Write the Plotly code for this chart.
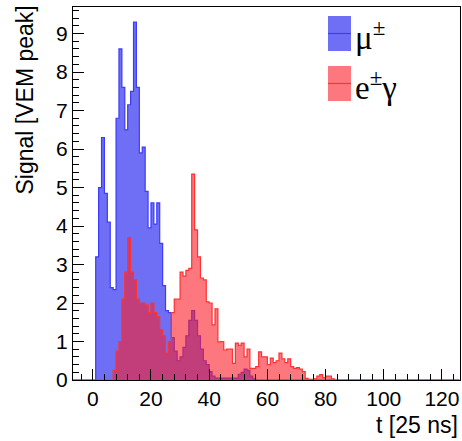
import plotly.graph_objects as go

# ---- data (bin contents, 1-unit bins of 25 ns) ----
t_min = -7
t_max = 126

mu_first_bin = 1
mu_signal = [3.2, 5.0, 6.3, 4.85, 4.1, 2.4, 2.35, 6.8, 8.6, 7.6,
             6.5, 7.15, 7.5, 9.3, 7.6, 5.9, 6.05, 4.9, 3.95, 4.6,
             4.05, 4.6, 3.55, 2.45, 1.8, 1.75, 1.1, 0.75, 0.5, 0.6,
             0.85, 1.15, 1.55, 1.8, 1.55, 1.15, 0.8, 0.5, 0.4, 0.22,
             0.1, 0.05, 0.05, 0.05, 0.05, 0.05, 0.05, 0.05, 0.05, 0.15,
             0.2, 0.28, 0.25, 0.1, 0.03]

em_first_bin = 7
em_signal = [0.25, 0.75, 1.0, 2.1, 2.8, 3.7, 2.8, 2.6, 2.1, 2.0,
             2.0, 1.95, 1.75, 2.0, 1.75, 1.65, 1.3, 1.15, 0.7, 1.0,
             1.75, 2.1, 2.1, 2.8, 2.7, 2.85, 2.9, 5.35, 3.9, 3.2,
             2.65, 2.6, 2.03, 2.0, 1.43, 1.85, 0.99, 1.0, 0.78, 0.8,
             0.8, 0.43, 0.96, 0.9, 0.96, 0.6, 0.8, 0.3, 0.3, 0.35,
             0.73, 0.6, 0.6, 0.4, 0.57, 0.45, 0.5, 0.7, 0.55, 0.45,
             0.55, 0.35, 0.3, 0.32, 0.28, 0.22, 0.04, 0.02, 0.02, 0.03,
             0.1, 0.14, 0.06, 0.1, 0.1, 0.03]

x_ticks = [0, 20, 40, 60, 80, 100, 120]
y_ticks = [0, 1, 2, 3, 4, 5, 6, 7, 8, 9]
labels = ["μ<sup>±</sup>", "e<sup>±</sup>γ"]


def full_hist(first_bin, values):
    edges = list(range(t_min, t_max + 1))
    contents = [0.0] * (len(edges) - 1)
    for i, v in enumerate(values):
        contents[first_bin - t_min + i] = v
    xs = edges
    ys = contents + [contents[-1]]
    return xs, ys


fig = go.Figure()

BLUE_FILL = "rgba(30,30,240,0.64)"
BLUE_LINE = "rgb(60,60,250)"
RED_FILL = "rgba(250,30,40,0.6)"
RED_LINE = "rgb(255,50,50)"

x_mu, y_mu = full_hist(mu_first_bin, mu_signal)
x_em, y_em = full_hist(em_first_bin, em_signal)

fig.add_trace(go.Scatter(x=x_mu, y=y_mu, mode="lines", line_shape="hv",
                         line=dict(color=BLUE_LINE, width=1.2),
                         fill="tozeroy", fillcolor=BLUE_FILL,
                         name=labels[0], showlegend=False, hoverinfo="skip"))
fig.add_trace(go.Scatter(x=x_em, y=y_em, mode="lines", line_shape="hv",
                         line=dict(color=RED_LINE, width=1.2),
                         fill="tozeroy", fillcolor=RED_FILL,
                         name=labels[1], showlegend=False, hoverinfo="skip"))

L, R, T, B = 73, 2, 7, 61
W, H = 462, 441
pw = W - L - R
ph = H - T - B


def px(xp):
    return (xp - L) / pw


def py(yp):
    return (H - B - yp) / ph


tick_font = dict(family="Liberation Sans, Arial, sans-serif", size=21, color="black")
title_font = dict(family="Liberation Sans, Arial, sans-serif", size=23, color="black")

fig.update_layout(
    width=W, height=H,
    margin=dict(l=L, r=R, t=T, b=B),
    plot_bgcolor="white", paper_bgcolor="white",
    xaxis=dict(range=[-6.8, 126.2], tickvals=x_ticks, ticks="inside", ticklen=11,
               tickcolor="black", tickwidth=1, showline=True, linecolor="black",
               linewidth=1, mirror=True, showgrid=False, zeroline=False,
               tickfont=tick_font,
               minor=dict(dtick=4, ticks="inside", ticklen=6, tickcolor="black",
                          showgrid=False)),
    yaxis=dict(range=[0, 9.69], tickvals=y_ticks, ticks="inside", ticklen=11,
               tickcolor="black", tickwidth=1, showline=True, linecolor="black",
               linewidth=1, mirror=True, showgrid=False, zeroline=False,
               tickfont=tick_font,
               minor=dict(dtick=0.2, ticks="inside", ticklen=6, tickcolor="black",
                          showgrid=False)),
    showlegend=False,
)

# axis titles (ROOT style: aligned to axis ends)
fig.add_annotation(text="t [25 ns]", xref="paper", yref="paper",
                   x=1.0, y=py(425), xanchor="right", yanchor="middle",
                   showarrow=False, font=title_font)
fig.add_annotation(text="Signal [VEM peak]", xref="paper", yref="paper",
                   x=px(24), y=py(4), xanchor="center", yanchor="top",
                   textangle=-90, showarrow=False, font=title_font)

# legend
leg_font = dict(family="Liberation Serif, Times New Roman, serif", size=33, color="black")
entries = [(labels[0], BLUE_FILL, BLUE_LINE, 16, 51),
           (labels[1], RED_FILL, RED_LINE, 66, 101)]
for text, fc, lc, y0, y1 in entries:
    fig.add_shape(type="rect", xref="paper", yref="paper",
                  x0=px(328), x1=px(351), y0=py(y1), y1=py(y0),
                  fillcolor=fc, line=dict(width=0))
    fig.add_shape(type="line", xref="paper", yref="paper",
                  x0=px(328), x1=px(351), y0=py((y0 + y1) / 2), y1=py((y0 + y1) / 2),
                  line=dict(color=lc, width=1.2))
    fig.add_annotation(text=text, xref="paper", yref="paper",
                       x=px(353), y=py((y0 + y1) / 2 + 1), xanchor="left", yanchor="middle",
                       showarrow=False, font=leg_font)

fig.write_html("out.html", config={"displayModeBar": False},
               post_script="document.body.style.margin='0';document.body.style.overflow='hidden';")
